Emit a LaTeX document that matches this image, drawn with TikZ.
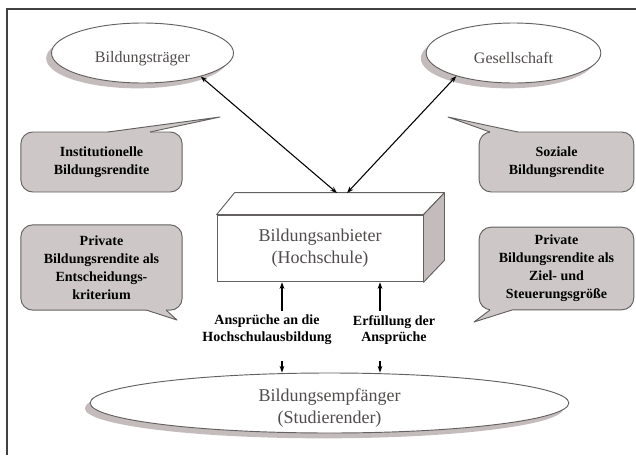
\documentclass[tikz,border=0pt]{standalone}
\usepackage{fontspec}
\setmainfont{Liberation Serif}
\usepackage{tikz}
\usetikzlibrary{arrows.meta,shapes.geometric,shadows}

\definecolor{bubblegray}{RGB}{205,199,199}
\definecolor{shadegray}{RGB}{196,188,188}
\definecolor{linegray}{RGB}{100,96,96}
\definecolor{textgray}{RGB}{80,76,76}

\begin{document}
\begin{tikzpicture}[x=0.75pt, y=0.75pt,
  party/.style={draw=linegray, ellipse, fill=white, line width=0.7pt, inner sep=0pt, drop shadow={shadow xshift=-4pt, shadow yshift=-4pt, fill=shadegray, opacity=1}},
  who/.style={align=center, font=\fontsize{12}{14}\selectfont, text=textgray},
  bigwho/.style={align=center, font=\fontsize{13.5}{16.5}\selectfont, text=textgray},
  bubble/.style={draw=linegray, fill=bubblegray, rounded corners=9pt, line width=0.7pt, align=center, font=\fontsize{10.5}{13.5}\selectfont\bfseries},
  tail/.style={fill=bubblegray},
  tailline/.style={draw=linegray, line width=0.7pt, line join=round},
  front/.style={draw=linegray, fill=white, line width=0.7pt, minimum width=154.5pt, minimum height=50pt, bigwho},
  face/.style={draw=linegray, line width=0.7pt, line join=round},
  hint/.style={align=center, font=\fontsize{10.5}{12.5}\selectfont\bfseries},
  arr/.style={-{Stealth[length=5pt, width=3.6pt]}, line width=0.8pt},
  twoway/.style={{Stealth[length=5pt, width=3.6pt]}-{Stealth[length=5pt, width=3.6pt]}, line width=0.8pt}
]
  \useasboundingbox (0,0) rectangle (636,455);
  \draw[line width=1pt, draw=black!75] (7,0) -- (7,446) -- (636,446);

  % Stakeholders
  \node[party, minimum width=136.5pt, minimum height=45pt] (traeger) at (142.5,402) {};
  \node[who] (traegertext) at (142.5,396) {Bildungsträger};
  \node[party, minimum width=131pt, minimum height=45pt] (gesell) at (513.5,402) {};
  \node[who] (geselltext) at (513.5,397) {Gesellschaft};

  % Provider (block)
  \node[front] (anbieter) at (320,206.5) {Bildungsanbieter\\(Hochschule)};
  \filldraw[face, fill=white] (anbieter.north west) -- ++(18,22) -- ([shift={(21,22)}]anbieter.north east) -- (anbieter.north east) -- cycle;
  \filldraw[face, fill=shadegray] (anbieter.north east) -- ++(21,22) -- ([shift={(21,22)}]anbieter.south east) -- (anbieter.south east) -- cycle;

  % Student
  \node[party, minimum width=359pt, minimum height=45pt] (empf) at (329.5,52) {};
  \node[bigwho] (empftext) at (329.5,46.5) {Bildungsempfänger\\(Studierender)};

  % Returns (speech bubbles)
  \node[bubble, minimum width=121pt, minimum height=45pt] (inst) at (101.5,293) {Institutionelle\\Bildungsrendite};
  \fill[tail] (108,321) -- (108,323) -- (220,338) -- (150,323) -- (150,321) -- cycle;
  \draw[tailline] (108,323) -- (220,338) -- (150,323);

  \node[bubble, minimum width=116pt, minimum height=45pt] (sozial) at (556.5,293) {Soziale\\Bildungsrendite};
  \fill[tail] (490,321) -- (490,323) -- (448,338) -- (518,323) -- (518,321) -- cycle;
  \draw[tailline] (490,323) -- (448,338) -- (518,323);

  \node[bubble, minimum width=121pt, minimum height=64pt] (privl) at (101.5,187.5) {Private\\Bildungsrendite als\\Entscheidungs-\\kriterium};
  \fill[tail] (146,147) -- (146,145) -- (177,135) -- (166,145) -- (166,147) -- cycle;
  \draw[tailline] (146,145) -- (177,135) -- (166,145);

  \node[bubble, minimum width=116pt, minimum height=62pt] (privr) at (556.5,186.5) {Private\\Bildungsrendite als\\Ziel- und\\Steuerungsgröße};
  \fill[tail] (490,147) -- (490,145) -- (474,133) -- (512,145) -- (512,147) -- cycle;
  \draw[tailline] (490,145) -- (474,133) -- (512,145);

  % Claims
  \node[hint] (ansp) at (267,125) {Ansprüche an die\\Hochschulausbildung};
  \node[hint] (erf) at (394,125) {Erfüllung der\\Ansprüche};

  % Arrows
  \coordinate (hitl) at (337,262);
  \coordinate (hitr) at (347,262);
  \draw[twoway] (traeger.-22) -- (hitl);
  \draw[twoway] (gesell.-158) -- (hitr);
  \draw[arr] ([xshift=11.25pt]ansp.north) -- ([xshift=11.25pt]ansp.north |- anbieter.south);
  \draw[arr] ([xshift=11.25pt, yshift=-9pt]ansp.south) -- ([xshift=11.25pt]ansp.south |- empf.north);
  \draw[arr] ([xshift=-10.5pt]erf.north |- ansp.north) -- ([xshift=-10.5pt]erf.north |- anbieter.south);
  \draw[arr] ([xshift=-10.5pt, yshift=-9pt]erf.south |- ansp.south) -- ([xshift=-10.5pt]erf.south |- empf.north);
\end{tikzpicture}
\end{document}
